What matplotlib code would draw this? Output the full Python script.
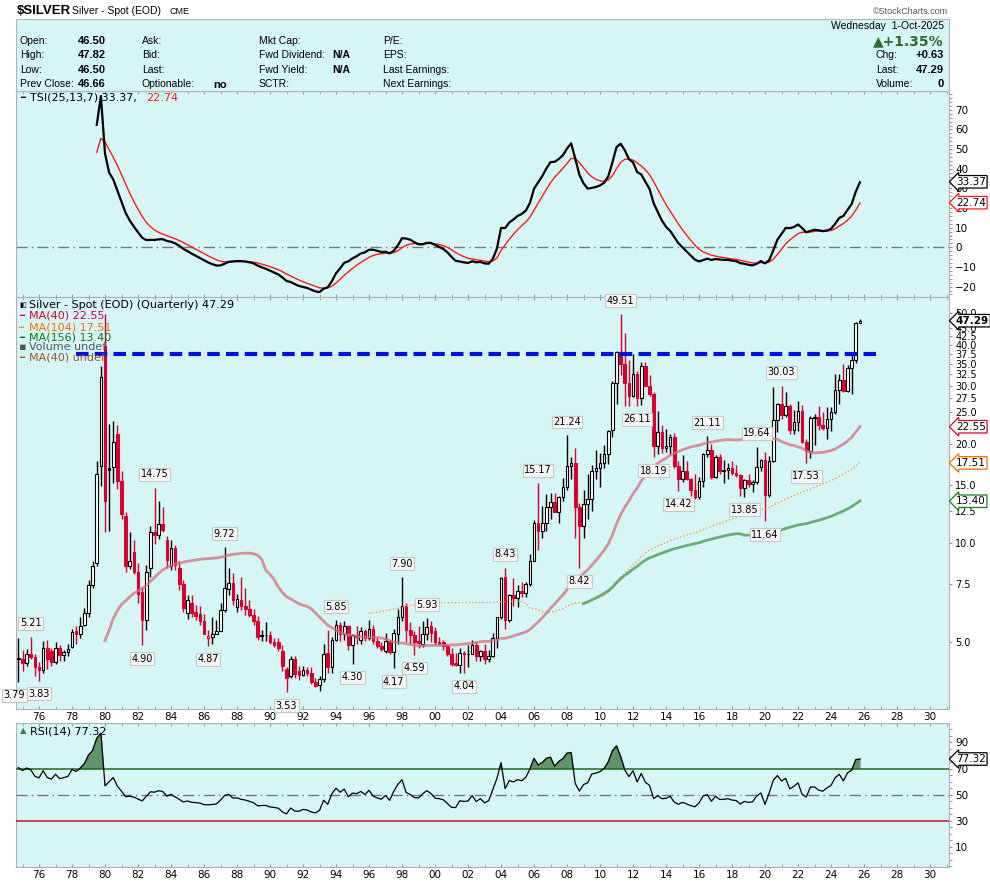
import numpy as np
import pandas as pd
import matplotlib
matplotlib.use("Agg")
import matplotlib.pyplot as plt
from matplotlib.patches import Rectangle
from matplotlib.ticker import FixedLocator, NullFormatter, MultipleLocator

# quarterly closes used only to warm up the indicators (not drawn)
warmup_close = [1.67, 1.83, 1.64, 1.70, 1.53, 1.47, 1.39, 1.55, 1.62, 1.78, 2.04,
                2.38, 2.60, 2.60, 3.28, 5.60, 5.05, 4.40]
warmup_start = "1970Q2"

# displayed quarterly candles, 1974Q4 .. 2025Q4  (open, high, low, close)
candle_start = "1974Q4"
opens = [4.45,
    4.45, 4.32, 4.60, 4.52, 4.20, 4.12, 4.80, 4.72, 4.36, 4.80, 4.58, 4.66,
    4.85, 5.42, 5.30, 5.65, 6.12, 7.45, 8.70, 17.10, 39.50, 16.90, 17.00, 21.50,
    15.40, 12.05, 8.50, 9.40, 8.20, 7.10, 5.85, 8.40, 10.80, 10.60, 11.40, 10.20,
    8.50, 9.70, 8.40, 7.50, 6.12, 6.60, 6.20, 6.10, 5.82, 5.15, 5.20, 5.30,
    5.42, 6.28, 7.25, 7.55, 6.40, 6.72, 6.45, 6.30, 6.05, 5.80, 5.26, 5.26,
    5.25, 5.00, 5.00, 4.72, 4.15, 3.95, 4.45, 4.10, 3.97, 4.12, 4.05, 3.80,
    3.72, 3.86, 4.65, 4.20, 5.10, 5.65, 5.30, 5.60, 4.90, 5.25, 5.10, 5.40,
    5.15, 5.50, 5.05, 4.88, 4.70, 5.05, 4.67, 5.30, 5.97, 6.45, 5.45, 5.28,
    5.05, 4.95, 5.30, 5.60, 5.40, 5.00, 5.00, 4.88, 4.60, 4.32, 4.28, 4.65,
    4.60, 4.62, 4.90, 4.55, 4.70, 4.45, 4.55, 5.15, 5.95, 7.90, 5.85, 6.95,
    6.82, 7.15, 7.05, 7.50, 8.85, 11.55, 10.90, 11.55, 12.90, 13.30, 12.40, 13.80,
    14.80, 17.20, 17.50, 12.90, 11.30, 13.10, 13.60, 16.60, 16.95, 17.50, 18.70, 22.00,
    30.60, 37.90, 34.90, 30.50, 27.90, 32.50, 27.60, 34.50, 30.00, 28.30, 19.70, 21.80,
    19.50, 19.75, 21.00, 17.10, 15.60, 16.60, 15.60, 14.50, 13.80, 15.40, 18.70, 19.20,
    15.90, 18.20, 16.60, 16.65, 16.90, 16.30, 16.10, 14.65, 15.50, 15.10, 15.30, 17.00,
    17.90, 14.00, 17.80, 23.60, 26.40, 24.50, 26.00, 22.00, 23.30, 25.10, 20.30, 19.00,
    24.00, 24.10, 22.80, 22.30, 23.80, 25.00, 29.10, 31.20, 28.90, 34.10, 36.00, 46.50]
highs = [5.15,
    4.75, 4.78, 5.21, 4.62, 4.35, 5.05, 5.08, 4.80, 5.00, 4.92, 4.75, 4.95,
    5.50, 5.60, 5.95, 6.35, 7.75, 8.85, 17.80, 34.50, 49.45, 23.00, 23.50, 22.80,
    16.60, 12.40, 10.80, 10.20, 8.70, 7.35, 8.60, 11.30, 14.75, 13.40, 12.90, 10.50,
    10.20, 9.90, 8.80, 7.75, 6.95, 6.95, 6.50, 6.45, 6.10, 5.45, 5.95, 5.85,
    6.60, 9.72, 8.40, 8.10, 7.00, 7.90, 7.30, 6.70, 6.30, 6.00, 5.45, 5.75,
    5.40, 5.15, 5.15, 4.90, 4.20, 4.55, 4.55, 4.25, 4.25, 4.20, 4.20, 3.90,
    3.95, 4.95, 5.45, 5.20, 5.85, 5.75, 5.80, 5.65, 5.30, 5.60, 5.55, 5.50,
    5.85, 5.65, 5.20, 5.00, 5.35, 5.10, 5.50, 6.30, 7.90, 6.60, 5.75, 5.40,
    5.60, 5.80, 5.93, 5.80, 5.55, 5.20, 5.10, 4.95, 4.82, 4.65, 4.80, 4.70,
    4.90, 5.10, 5.00, 4.75, 4.95, 4.75, 5.35, 5.95, 7.90, 8.43, 7.00, 7.85,
    7.45, 7.60, 7.60, 9.25, 11.75, 15.17, 13.00, 14.10, 14.20, 14.20, 13.90, 15.80,
    21.24, 18.30, 19.50, 13.20, 14.50, 16.20, 17.30, 19.20, 18.80, 19.85, 22.10, 31.00,
    38.20, 49.51, 43.40, 36.00, 37.50, 33.30, 35.40, 35.40, 32.40, 28.70, 25.10, 22.80,
    22.20, 21.50, 21.60, 17.80, 18.50, 17.80, 15.80, 16.20, 15.90, 18.80, 21.11, 20.00,
    18.50, 18.60, 17.90, 17.50, 17.70, 17.30, 16.20, 15.60, 16.20, 15.50, 19.64, 18.00,
    18.95, 18.40, 29.85, 26.70, 30.03, 28.75, 26.50, 25.40, 26.95, 26.20, 20.70, 24.30,
    24.60, 26.10, 25.00, 25.90, 25.80, 32.50, 32.70, 34.90, 34.60, 37.30, 47.00, 47.82]
lows = [3.79,
    4.10, 4.25, 4.45, 3.95, 3.83, 4.05, 4.15, 4.25, 4.30, 4.40, 4.40, 4.55,
    4.80, 4.95, 5.15, 5.60, 5.95, 7.30, 8.55, 14.90, 10.80, 10.90, 15.20, 14.60,
    11.80, 8.20, 8.35, 8.05, 6.60, 4.90, 5.45, 7.90, 9.95, 10.30, 10.80, 8.40,
    8.30, 8.30, 7.20, 6.20, 5.90, 5.95, 5.85, 5.65, 5.30, 4.87, 4.95, 5.30,
    5.40, 6.20, 6.95, 6.50, 6.20, 6.25, 6.05, 5.95, 5.65, 5.10, 5.05, 5.05,
    4.95, 4.85, 4.70, 4.10, 3.53, 3.90, 3.90, 3.85, 3.95, 3.95, 3.75, 3.65,
    3.56, 3.80, 4.05, 4.05, 5.05, 5.05, 5.10, 4.75, 4.30, 4.95, 4.95, 5.05,
    5.10, 4.95, 4.80, 4.70, 4.65, 4.60, 4.17, 4.95, 5.80, 5.00, 4.95, 4.59,
    4.80, 4.85, 5.10, 5.00, 4.90, 4.90, 4.75, 4.55, 4.25, 4.25, 4.05, 4.04,
    4.20, 4.60, 4.40, 4.40, 4.30, 4.35, 4.50, 4.80, 5.90, 5.50, 5.75, 6.45,
    6.40, 6.85, 6.85, 7.40, 8.80, 9.55, 10.40, 10.90, 11.80, 12.40, 11.50, 13.40,
    14.50, 15.70, 10.40, 8.42, 10.40, 11.80, 12.50, 15.60, 14.80, 16.90, 17.40, 21.00,
    26.40, 32.30, 26.15, 26.15, 27.70, 26.11, 26.20, 29.90, 27.90, 18.19, 18.70, 18.80,
    18.90, 18.60, 16.90, 14.42, 15.30, 15.50, 13.90, 13.60, 13.60, 14.80, 18.20, 15.60,
    15.80, 16.20, 15.20, 15.60, 16.10, 15.90, 13.90, 13.85, 14.80, 14.30, 15.10, 16.50,
    11.64, 13.80, 17.60, 21.80, 23.80, 24.20, 21.40, 21.40, 21.95, 20.10, 17.53, 18.10,
    19.90, 22.10, 22.10, 20.70, 21.90, 24.60, 26.50, 28.70, 28.80, 28.30, 35.30, 46.50]
closes = [4.47,
    4.32, 4.60, 4.52, 4.20, 4.12, 4.80, 4.45, 4.36, 4.80, 4.58, 4.66, 4.76,
    5.38, 5.30, 5.62, 6.12, 7.45, 8.50, 16.20, 31.90, 13.40, 16.70, 20.30, 15.40,
    12.30, 8.50, 8.85, 8.20, 7.00, 5.85, 8.20, 10.80, 10.60, 11.40, 11.00, 8.90,
    9.70, 8.60, 7.50, 6.35, 6.70, 6.15, 6.02, 5.82, 5.32, 5.22, 5.32, 5.42,
    6.25, 7.30, 7.55, 6.72, 6.75, 6.45, 6.30, 6.05, 5.80, 5.20, 5.24, 5.25,
    5.00, 4.92, 4.80, 4.25, 3.90, 4.45, 4.00, 3.97, 4.12, 4.05, 3.80, 3.70,
    3.86, 4.60, 4.20, 5.10, 5.65, 5.30, 5.60, 4.90, 5.25, 5.20, 5.40, 5.15,
    5.50, 5.05, 4.88, 4.78, 5.05, 4.67, 5.35, 5.97, 6.45, 5.45, 5.28, 5.00,
    4.98, 5.30, 5.55, 5.35, 5.00, 4.95, 4.88, 4.60, 4.30, 4.28, 4.65, 4.60,
    4.62, 4.90, 4.55, 4.70, 4.45, 4.55, 5.15, 5.95, 7.85, 5.85, 6.95, 6.82,
    7.15, 7.05, 7.50, 8.85, 11.55, 10.90, 11.55, 12.90, 13.30, 12.40, 13.80, 14.80,
    17.20, 17.50, 12.90, 11.30, 13.10, 13.60, 16.60, 16.95, 17.50, 18.70, 21.95, 30.60,
    37.90, 34.90, 30.50, 27.90, 32.50, 27.60, 34.50, 30.00, 28.30, 19.70, 21.80, 19.50,
    19.75, 21.00, 17.10, 15.60, 16.60, 15.60, 14.50, 13.80, 15.40, 18.70, 19.20, 15.90,
    18.20, 16.60, 16.65, 16.90, 16.30, 16.10, 14.65, 15.50, 15.10, 15.30, 17.00, 17.90,
    14.00, 17.80, 23.60, 26.40, 24.50, 26.00, 22.00, 23.30, 25.10, 20.30, 19.00, 24.00,
    24.10, 22.80, 22.30, 23.80, 25.00, 29.10, 31.20, 28.90, 34.10, 36.00, 46.60, 47.29]

# swing high / low labels: (quarter, 'H' or 'L', x nudge in px)
swing_labels = [("1974Q4", "L", -4), ("1975Q3", "H", 0), ("1976Q1", "L", 0), ("1982Q2", "L", 0),
                ("1983Q1", "H", 0), ("1986Q2", "L", 0), ("1987Q2", "H", 0), ("1991Q1", "L", 0),
                ("1994Q1", "H", 0), ("1995Q1", "L", 0), ("1997Q3", "L", 0), ("1998Q1", "H", 0),
                ("1998Q4", "L", 0), ("1999Q3", "H", 0), ("2001Q4", "L", 0), ("2004Q2", "H", 0),
                ("2006Q2", "H", 0), ("2008Q1", "H", 0), ("2008Q4", "L", 0), ("2011Q2", "H", 0),
                ("2012Q2", "L", 0), ("2013Q2", "L", 0), ("2014Q4", "L", 0), ("2016Q3", "H", 0),
                ("2018Q4", "L", 0), ("2019Q3", "H", 0), ("2020Q1", "L", 0), ("2021Q1", "H", 0),
                ("2022Q3", "L", 0)]

resistance = 37.5
resistance_span = [1978.25, 2027.1]

last_tsi, last_sig, last_rsi = 33.37, 22.74, 77.32
last_ma40, last_ma104, last_ma156 = 22.55, 17.51, 13.40

# ---------------------------------------------------------------------------
W, H = 990, 883
BG = "#d6f5f5"
RED = "#d50032"
fig = plt.figure(figsize=(W / 100, H / 100), dpi=100)


def px_axes(x0, y0, x1, y1):
    return fig.add_axes([x0 / W, 1 - y1 / H, (x1 - x0) / W, (y1 - y0) / H])


def ftext(x, y, s, **kw):
    kw.setdefault("va", "center")
    kw.setdefault("fontsize", 7.5)
    kw.setdefault("family", "Liberation Sans")
    fig.text(x / W, 1 - y / H, s, **kw)


def year_of(periods):
    return periods.year + (periods.quarter - 1) / 4.0


def wilder(series, n):
    vals = series.to_numpy(dtype=float)
    out = np.full(len(vals), np.nan)
    first = np.argmax(~np.isnan(vals))
    out[first + n - 1] = np.nanmean(vals[first:first + n])
    for j in range(first + n, len(vals)):
        out[j] = (out[j - 1] * (n - 1) + vals[j]) / n
    return pd.Series(out)


cper = pd.period_range(candle_start, periods=len(closes), freq="Q")
wper = pd.period_range(warmup_start, periods=len(warmup_close), freq="Q")
xs = year_of(cper).to_numpy()
all_close = pd.Series(list(warmup_close) + list(closes))
all_x = np.concatenate([year_of(wper).to_numpy(), xs])
n_warm = len(warmup_close)

# indicators
ma40 = all_close.rolling(40).mean()
ma104 = all_close.rolling(104).mean()
ma156 = all_close.rolling(156).mean()

pc = all_close.diff()
ds = pc.ewm(span=25, adjust=False).mean().ewm(span=13, adjust=False).mean()
ads = pc.abs().ewm(span=25, adjust=False).mean().ewm(span=13, adjust=False).mean()
tsi = 100 * ds / ads
sig = tsi.ewm(span=7, adjust=False).mean()
tsi[:37] = np.nan
sig[:37] = np.nan

gain = pc.clip(lower=0)
loss = (-pc).clip(lower=0)
rsi = 100 - 100 / (1 + wilder(gain, 14) / wilder(loss, 14))
rsi[:n_warm] = np.nan

XMIN, XMAX = 1974.606, 2031.15
xt_major = list(range(1976, 2031, 2))
xt_labels = ["%02d" % (y % 100) for y in xt_major]

# ---------------------------------------------------------------------------
# header
hdr = Rectangle((16 / W, 1 - 91 / H), 933 / W, 72 / H, transform=fig.transFigure,
                facecolor=BG, edgecolor="#b4b4b4", lw=0.8)
fig.patches.append(hdr)
ftext(17, 11, "$SILVER", fontsize=9.5, fontweight="bold")
ftext(72, 11, "Silver - Spot (EOD)", fontsize=7.5)
ftext(170, 12, "CME", fontsize=6.5)
ftext(948, 11, "\u00a9StockCharts.com", fontsize=6.5, ha="right", color="#555555")

rows = [41.5, 55.5, 70, 84]
for y, lab, val in zip(rows, ["Open:", "High:", "Low:", "Prev Close:"],
                       ["46.50", "47.82", "46.50", "46.66"]):
    ftext(20, y, lab)
    ftext(78, y, val, fontweight="bold", fontsize=8)
for y, lab in zip(rows, ["Ask:", "Bid:", "Last:", "Optionable:"]):
    ftext(142, y, lab)
ftext(213, 85, "no", fontweight="bold", fontsize=8)
for y, lab in zip(rows, ["Mkt Cap:", "Fwd Dividend:", "Fwd Yield:", "SCTR:"]):
    ftext(259, y, lab)
ftext(332, rows[1], "N/A", fontweight="bold")
ftext(332, rows[2], "N/A", fontweight="bold")
for y, lab in zip(rows, ["P/E:", "EPS:", "Last Earnings:", "Next Earnings:"]):
    ftext(383, y, lab)
ftext(944, 26, "Wednesday  1-Oct-2025", ha="right")
ftext(944, 41, "\u25b2+1.35%", ha="right", fontsize=10, fontweight="bold",
      color="#2d6a2d", family="DejaVu Sans")
for y, lab, val in zip(rows[1:], ["Chg:", "Last:", "Volume:"], ["+0.63", "47.29", "0"]):
    ftext(876, y, lab)
    ftext(944, y, val, ha="right", fontweight="bold", fontsize=8)


def style_panel(ax):
    ax.set_facecolor(BG)
    for s in ax.spines.values():
        s.set_color("#b0b0b0")
        s.set_linewidth(0.8)
    ax.set_xlim(XMIN, XMAX)
    ax.yaxis.tick_right()
    ax.tick_params(axis="y", which="both", direction="out", length=2.5, pad=2,
                   labelsize=7.5, colors="#888888", labelcolor="black")
    ax.xaxis.set_major_locator(FixedLocator(xt_major))
    ax.xaxis.set_minor_locator(MultipleLocator(1))
    ax.tick_params(axis="x", which="both", direction="in", length=2.5, top=True,
                   colors="#999999", labelcolor="black", labelsize=7.5, pad=2)


def tag(ax, y, s, ec, bold=False):
    ax.annotate(s, xy=(1, y), xycoords=("axes fraction", "data"), xytext=(5, 0),
                textcoords="offset points", ha="left", va="center", fontsize=7.5,
                fontweight="bold" if bold else "normal", zorder=10,
                bbox=dict(boxstyle="larrow,pad=0.12", fc="white", ec=ec, lw=0.9),
                annotation_clip=False)


def legend_line(x, y, icon, text, col, icol=None, isize=6):
    ftext(x, y, icon, color=icol or col, fontsize=isize, family="DejaVu Sans")
    ftext(x + 10, y, text, color=col, fontsize=8, family="DejaVu Sans")


# ---------------------------------------------------------------------------
# TSI panel
ax1 = px_axes(16, 91, 949, 297)
style_panel(ax1)
ax1.set_ylim(-25.3, 79.6)
ax1.yaxis.set_major_locator(MultipleLocator(10))
ax1.yaxis.set_minor_locator(MultipleLocator(2))
ax1.set_xticklabels([])
ax1.axhline(0, color="#777777", lw=1, ls=(0, (8, 3, 1, 3)))
ax1.plot(all_x, sig, color="#ff1a1a", lw=1)
ax1.plot(all_x, tsi, color="black", lw=1.6)
tag(ax1, last_tsi, "%.2f" % last_tsi, "black")
tag(ax1, last_sig, "%.2f" % last_sig, "#ff1a1a")
legend_line(20, 98, "\u2501", "TSI(25,13,7) 33.37,", "black")
ftext(146, 98, "22.74", fontsize=8, family="DejaVu Sans", color="#ff1a1a")

# ---------------------------------------------------------------------------
# price panel
ax2 = px_axes(16, 297, 949, 709)
style_panel(ax2)
ax2.set_yscale("log")
ax2.set_ylim(3.14, 55.8)
ax2.yaxis.set_major_locator(FixedLocator([5, 7.5, 10, 12.5, 15, 20, 25, 27.5,
                                          30, 32.5, 35, 37.5, 40, 42.5, 45, 50]))
ax2.yaxis.set_major_formatter(matplotlib.ticker.FormatStrFormatter("%.1f"))
ax2.yaxis.set_minor_locator(FixedLocator([17.5, 22.5, 47.5]))
ax2.yaxis.set_minor_formatter(NullFormatter())
ax2.tick_params(axis="y", labelsize=7)
ax2.set_xticklabels(xt_labels)

o = np.array(opens)
h = np.array(highs)
l = np.array(lows)
c = np.array(closes)
prev = np.concatenate([[warmup_close[-1]], c[:-1]])
edge = np.where(c >= prev, "black", RED)
face = np.where(c < o, edge, "white")
bottom = np.minimum(o, c)
height = np.maximum(np.abs(c - o), 0.004 * c)
ax2.vlines(xs, l, h, colors=edge, lw=1, zorder=3)
ax2.bar(xs, height, bottom=bottom, width=0.16, color=face, edgecolor=edge,
        linewidth=0.8, zorder=4)

ax2.plot(all_x, ma104, color="#f59a52", lw=1, ls=(0, (1, 1.5)), zorder=5)
ax2.plot(all_x, ma156, color="#4f9a58", lw=2, alpha=0.8, zorder=5)
ax2.plot(all_x, ma40, color="#d4707f", lw=2, alpha=0.75, zorder=5)
ax2.plot(resistance_span, [resistance, resistance], color="#0010e0", lw=3,
         ls=(0, (3, 1.5)), zorder=6)

idx = {str(p): k for k, p in enumerate(cper)}
for q, kind, nudge in swing_labels:
    k = idx[q]
    v = h[k] if kind == "H" else l[k]
    ax2.annotate("%.2f" % v, xy=(xs[k], v), xytext=(nudge * 0.72, 6 if kind == "H" else -6),
                 textcoords="offset points", ha="center",
                 va="bottom" if kind == "H" else "top", fontsize=7, zorder=8,
                 bbox=dict(boxstyle="square,pad=0.15", fc="#f6f6f6", ec="#c8c8c8", lw=0.8),
                 annotation_clip=False)

tag(ax2, closes[-1], "%.2f" % closes[-1], "black", bold=True)
tag(ax2, last_ma40, "%.2f" % last_ma40, "#d50032")
tag(ax2, last_ma104, "%.2f" % last_ma104, "#ff6a00")
tag(ax2, last_ma156, "%.2f" % last_ma156, "#1a7a1a")

legend_line(19, 305, "\u25ae\u25af", "Silver - Spot (EOD) (Quarterly) 47.29", "black", isize=5)
legend_line(19, 316, "\u2501", "MA(40) 22.55", "#d50032")
legend_line(19, 327, "\u2505", "MA(104) 17.51", "#ff6a00")
legend_line(19, 337, "\u2501", "MA(156) 13.40", "#1a6e1a")
legend_line(19, 347.5, "\u2586", "Volume undef", "#555555", isize=5)
legend_line(19, 358, "\u2501", "MA(40) undef", "#a0522d")

# ---------------------------------------------------------------------------
# RSI panel
ax3 = px_axes(16, 723, 949, 867)
style_panel(ax3)
ax3.set_ylim(-5.4, 104.9)
ax3.yaxis.set_major_locator(FixedLocator([10, 30, 50, 70, 90]))
ax3.yaxis.set_minor_locator(MultipleLocator(5))
ax3.set_xticklabels(xt_labels)
r = rsi.to_numpy()
ax3.fill_between(all_x, r, 70, where=r > 70, interpolate=True, color="#5f9468", zorder=2)
ax3.axhline(70, color="#1f6b1f", lw=1.1, zorder=3)
ax3.axhline(50, color="#777777", lw=1, ls=(0, (8, 3, 1, 3)), zorder=3)
ax3.axhline(30, color="#c8102e", lw=1.1, zorder=3)
ax3.plot(all_x, r, color="black", lw=0.9, zorder=4)
tag(ax3, last_rsi, "%.2f" % last_rsi, "black")
legend_line(20, 731, "\u25b2", "RSI(14) 77.32", "black", icol="#3f7a4c")

fig.savefig("out.png", dpi=100, facecolor="white")
